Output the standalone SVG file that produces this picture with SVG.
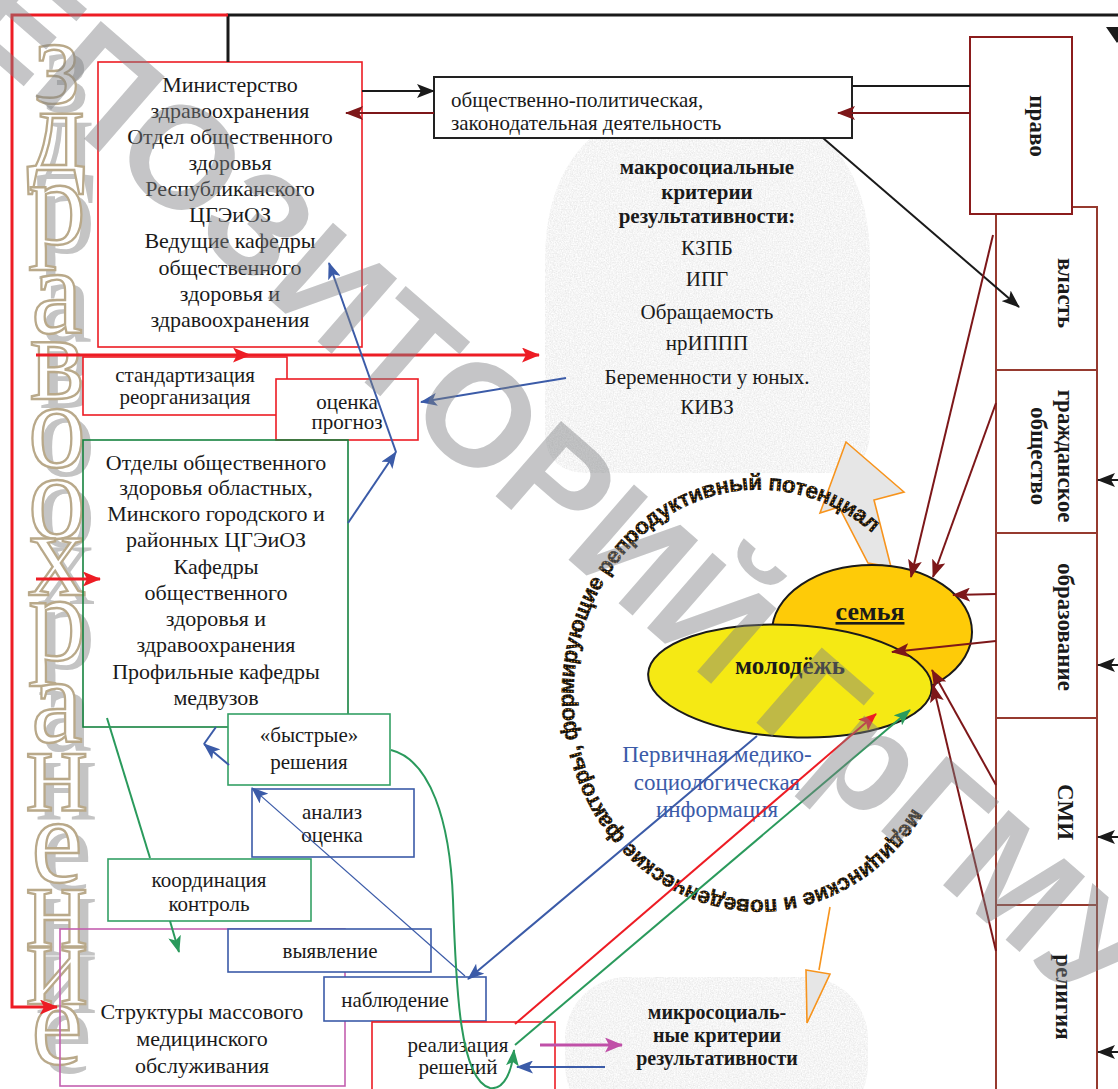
<svg xmlns="http://www.w3.org/2000/svg" width="1118" height="1089" viewBox="0 0 1118 1089">
<defs>
<style>
text{font-family:"Liberation Serif","Times New Roman",serif;fill:#1a1a1a;text-anchor:middle;font-size:21px}
.f22{font-size:22px}
.b{font-weight:bold}
.lbl{font-size:23px;font-weight:bold;dominant-baseline:central}
.lt{text-anchor:start}
.blue{fill:#3b5ba8;font-size:23px}
.ttl{fill:#fff;stroke:#b9a98a;stroke-width:2.4;font-size:122px}
.sh{fill:#c4c4c4;font-size:122px}
.arc{font-family:"Liberation Sans",Arial,sans-serif;font-weight:bold;font-size:22.5px;letter-spacing:-0.4px;fill:url(#dots);stroke:#000;stroke-width:0.4;text-anchor:start}
.wm{font-family:"Liberation Sans",Arial,sans-serif;font-weight:bold;font-size:145px;fill:#7f8184;opacity:0.45;text-anchor:start}
.bx{fill:#fff;stroke-width:1.6}
.nf{fill:none;stroke-width:1.6}
.red{stroke:#ed1c24}
.blu{stroke:#3b5ba8}
.grn{stroke:#34a065}
.col{fill:#fff;stroke:#963a2f;stroke-width:2}
</style>
<filter id="tex" x="0" y="0" width="100%" height="100%">
<feTurbulence type="fractalNoise" baseFrequency="0.75" numOctaves="2" seed="3" result="n"/>
<feColorMatrix in="n" type="matrix" values="0.3 0 0 0 0.76  0.3 0 0 0 0.76  0.3 0 0 0 0.76  0 0 0 0 1" result="g"/>
<feComposite in="g" in2="SourceGraphic" operator="in"/>
</filter>
<marker id="aBk" markerUnits="userSpaceOnUse" markerWidth="18" markerHeight="14" refX="17" refY="7" orient="auto"><path d="M0,0 L18,7 L0,14 L4,7 Z" fill="#1a1a1a"/></marker>
<marker id="aDr" markerUnits="userSpaceOnUse" markerWidth="18" markerHeight="14" refX="17" refY="7" orient="auto"><path d="M0,0 L18,7 L0,14 L4,7 Z" fill="#7d1719"/></marker>
<marker id="aR" markerUnits="userSpaceOnUse" markerWidth="18" markerHeight="15" refX="17" refY="7.5" orient="auto"><path d="M0,0 L18,7.5 L0,15 L4,7.5 Z" fill="#ed1c24"/></marker>
<marker id="aB" markerUnits="userSpaceOnUse" markerWidth="17" markerHeight="13" refX="16" refY="6.5" orient="auto"><path d="M0,0 L17,6.5 L0,13 L4,6.5 Z" fill="#3b5ba8"/></marker>
<marker id="aG" markerUnits="userSpaceOnUse" markerWidth="17" markerHeight="13" refX="16" refY="6.5" orient="auto"><path d="M0,0 L17,6.5 L0,13 L4,6.5 Z" fill="#2a9a5c"/></marker>
<marker id="aM" markerUnits="userSpaceOnUse" markerWidth="18" markerHeight="15" refX="17" refY="7.5" orient="auto"><path d="M0,0 L18,7.5 L0,15 L4,7.5 Z" fill="#c050a8"/></marker>
<pattern id="dots" width="3" height="3" patternUnits="userSpaceOnUse"><rect width="3" height="3" fill="#111"/><circle cx="1.5" cy="1.5" r="0.8" fill="#e8921e"/></pattern>
<path id="arcp" d="M 913 808 A 185 205 0 1 1 885 545"/>
</defs>
<rect width="1118" height="1089" fill="#fff"/>

<g id="macro-criteria">
<path d="M 545 430 V 260 C 545 160 600 100 707 100 C 815 100 870 160 870 260 V 430 Q 870 473 827 473 H 588 Q 545 473 545 430 Z" fill="#ebebeb" filter="url(#tex)"/>
<text class="b" x="707" y="174">макросоциальные</text>
<text class="b" x="707" y="199">критерии</text>
<text class="b" x="707" y="223">результативности:</text>
<text x="707" y="255">КЗПБ</text>
<text x="707" y="286">ИПГ</text>
<text x="707" y="319">Обращаемость</text>
<text x="707" y="350">нрИППП</text>
<text x="707" y="384">Беременности у юных.</text>
<text x="707" y="414">КИВЗ</text>
</g>

<g id="micro-criteria">
<rect x="565" y="977" width="303" height="150" rx="62" fill="#ebebeb" filter="url(#tex)"/>
<text class="b" style="font-size:20px" x="717" y="1019">микросоциаль-</text>
<text class="b" style="font-size:20px" x="717" y="1042">ные критерии</text>
<text class="b" style="font-size:20px" x="717" y="1065">результативности</text>
</g>

<g id="potential-arrow">
<polygon points="846,442 904,492 874,500 891,567 868,563 839,507 820,513" fill="#e6e6e6" stroke="#f7941d" stroke-width="1.6"/>
</g>

<g id="family">
<ellipse cx="872" cy="632" rx="100" ry="67" fill="#fecb08" stroke="#1a1a1a" stroke-width="2"/>
<text class="b" style="font-size:26px;text-decoration:underline" x="870" y="620">семья</text>
</g>
<g id="youth">
<ellipse cx="790" cy="681" rx="142" ry="56" transform="rotate(3 790 681)" fill="#f5e914" stroke="#1a1a1a" stroke-width="2"/>
<text class="b" style="font-size:25px" x="790" y="674">молодёжь</text>
</g>

<g id="factors-arc">
<text class="arc"><textPath href="#arcp">медицинские и поведенческие факторы, формирующие репродуктивный потенциал</textPath></text>
</g>

<g id="primary-info">
<text class="blue" x="717" y="762">Первичная медико-</text>
<text class="blue" x="717" y="790">социологическая</text>
<text class="blue" x="717" y="817">информация</text>
</g>

<g id="title-vertical">
<g transform="translate(57,103) scale(0.95,1)"><text class="sh" x="10" y="9">з</text><text class="ttl">з</text></g>
<g transform="translate(57,170) scale(0.95,1)"><text class="sh" x="10" y="9">д</text><text class="ttl">д</text></g>
<g transform="translate(57,244) scale(0.95,1)"><text class="sh" x="10" y="9">р</text><text class="ttl">р</text></g>
<g transform="translate(57,333) scale(0.95,1)"><text class="sh" x="10" y="9">а</text><text class="ttl">а</text></g>
<g transform="translate(57,399) scale(0.95,1)"><text class="sh" x="10" y="9">в</text><text class="ttl">в</text></g>
<g transform="translate(57,467) scale(0.95,1)"><text class="sh" x="10" y="9">о</text><text class="ttl">о</text></g>
<g transform="translate(57,538) scale(0.95,1)"><text class="sh" x="10" y="9">о</text><text class="ttl">о</text></g>
<g transform="translate(57,595) scale(0.95,1)"><text class="sh" x="10" y="9">х</text><text class="ttl">х</text></g>
<g transform="translate(57,660) scale(0.95,1)"><text class="sh" x="10" y="9">р</text><text class="ttl">р</text></g>
<g transform="translate(57,742) scale(0.95,1)"><text class="sh" x="10" y="9">а</text><text class="ttl">а</text></g>
<g transform="translate(57,810) scale(0.95,1)"><text class="sh" x="10" y="9">н</text><text class="ttl">н</text></g>
<g transform="translate(57,882) scale(0.95,1)"><text class="sh" x="10" y="9">е</text><text class="ttl">е</text></g>
<g transform="translate(57,946) scale(0.95,1)"><text class="sh" x="10" y="9">н</text><text class="ttl">н</text></g>
<g transform="translate(57,1004) scale(0.95,1)"><text class="sh" x="10" y="9">и</text><text class="ttl">и</text></g>
<g transform="translate(57,1064) scale(0.95,1)"><text class="sh" x="10" y="9">е</text><text class="ttl">е</text></g>
</g>

<g id="ministry">
<rect class="bx red" x="98" y="62" width="264" height="285"/>
<text class="f22" x="230" y="92">Министерство</text>
<text class="f22" x="230" y="118">здравоохранения</text>
<text class="f22" x="230" y="144">Отдел общественного</text>
<text class="f22" x="230" y="170">здоровья</text>
<text class="f22" x="230" y="196">Республиканского</text>
<text class="f22" x="230" y="222">ЦГЭиОЗ</text>
<text class="f22" x="230" y="248">Ведущие кафедры</text>
<text class="f22" x="230" y="275">общественного</text>
<text class="f22" x="230" y="301">здоровья и</text>
<text class="f22" x="230" y="327">здравоохранения</text>
</g>

<g id="legislative">
<rect x="434" y="77" width="418" height="61" fill="#fff" stroke="#222" stroke-width="2"/>
<text class="lt" x="451" y="107">общественно-политическая,</text>
<text class="lt" x="451" y="130">законодательная деятельность</text>
</g>

<g id="vlast"><rect class="col" x="996" y="207" width="101" height="163"/><text class="lbl" transform="translate(1065,293) rotate(90)">власть</text></g>
<g id="pravo"><rect x="970" y="37" width="102" height="177" fill="#fff" stroke="#8b1c1c" stroke-width="2"/><text class="lbl" transform="translate(1037,126) rotate(90)">право</text></g>
<g id="civil"><rect class="col" x="996" y="370" width="101" height="163"/><text class="lbl" transform="translate(1065,456) rotate(90)">гражданское</text><text class="lbl" transform="translate(1038,456) rotate(90)">общество</text></g>
<g id="education"><rect class="col" x="996" y="533" width="101" height="185"/><text class="lbl" transform="translate(1065,627) rotate(90)">образование</text></g>
<g id="media"><rect class="col" x="996" y="718" width="101" height="187"/><text class="lbl" transform="translate(1065,812) rotate(90)">СМИ</text></g>
<g id="religion"><rect class="col" x="996" y="905" width="101" height="200"/><text class="lbl" transform="translate(1063,997) rotate(90)">религия</text></g>

<g id="standardization">
<rect class="bx red" x="83" y="357" width="204" height="58"/>
<text x="185" y="382">стандартизация</text>
<text x="185" y="404">реорганизация</text>
</g>
<g id="assessment">
<rect class="bx red" x="276" y="379" width="142" height="61"/>
<text x="347" y="409">оценка</text>
<text x="347" y="429">прогноз</text>
</g>

<g id="regional">
<rect class="nf" x="83" y="440" width="265" height="287" stroke="#16833f"/>
<text class="f22" x="216" y="470">Отделы общественного</text>
<text class="f22" x="216" y="495">здоровья областных,</text>
<text class="f22" x="216" y="521">Минского городского и</text>
<text class="f22" x="216" y="547">районных ЦГЭиОЗ</text>
<text class="f22" x="216" y="574">Кафедры</text>
<text class="f22" x="216" y="600">общественного</text>
<text class="f22" x="216" y="626">здоровья и</text>
<text class="f22" x="216" y="652">здравоохранения</text>
<text class="f22" x="216" y="679">Профильные кафедры</text>
<text class="f22" x="216" y="705">медвузов</text>
</g>

<g id="quick-decisions">
<rect class="bx grn" x="228" y="714" width="162" height="71"/>
<text x="309" y="742">«быстрые»</text>
<text x="309" y="769">решения</text>
</g>
<g id="analysis">
<rect class="bx blu" x="252" y="789" width="162" height="68"/>
<text x="332" y="819">анализ</text>
<text x="332" y="842">оценка</text>
</g>
<g id="coordination">
<rect class="bx grn" x="108" y="859" width="203" height="62"/>
<text x="209" y="887">координация</text>
<text x="209" y="911">контроль</text>
</g>
<g id="mass-care">
<rect class="nf" x="60" y="929" width="285" height="157" stroke="#c45fb0"/>
<text class="f22" x="202" y="1019">Структуры массового</text>
<text class="f22" x="202" y="1046">медицинского</text>
<text class="f22" x="202" y="1073">обслуживания</text>
</g>
<g id="detection">
<rect class="bx blu" x="228" y="929" width="203" height="43"/>
<text x="330" y="958">выявление</text>
</g>
<g id="observation">
<rect class="bx blu" x="324" y="977" width="162" height="44"/>
<text x="395" y="1007">наблюдение</text>
</g>
<g id="implementation">
<rect class="bx red" x="372" y="1022" width="183" height="80"/>
<text x="458" y="1052">реализация</text>
<text x="458" y="1074">решений</text>
</g>

<g id="connectors" fill="none">
<polyline points="228,62 228,15 1118,15" stroke="#1a1a1a" stroke-width="3"/>
<polyline points="228,15 12,15 12,1007 57,1007" stroke="#ed1c24" stroke-width="3" marker-end="url(#aR)"/>
<line x1="36" y1="355" x2="250" y2="355" stroke="#ed1c24" stroke-width="3" marker-end="url(#aR)"/>
<line x1="250" y1="355" x2="539" y2="355" stroke="#ed1c24" stroke-width="3" marker-end="url(#aR)"/>
<line x1="36" y1="579" x2="100" y2="579" stroke="#ed1c24" stroke-width="3" marker-end="url(#aR)"/>
<line x1="515" y1="1024" x2="876" y2="714" stroke="#ed1c24" stroke-width="2" marker-end="url(#aR)"/>

<line x1="362" y1="91" x2="434" y2="91" stroke="#1a1a1a" stroke-width="2" marker-end="url(#aBk)"/>
<line x1="852" y1="86" x2="970" y2="86" stroke="#1a1a1a" stroke-width="2"/>
<line x1="823" y1="138" x2="1019" y2="307" stroke="#1a1a1a" stroke-width="2" marker-end="url(#aBk)"/>
<line x1="1118" y1="480" x2="1098" y2="480" stroke="#1a1a1a" stroke-width="2" marker-end="url(#aBk)"/>
<line x1="1118" y1="665" x2="1098" y2="665" stroke="#1a1a1a" stroke-width="2" marker-end="url(#aBk)"/>
<line x1="1118" y1="837" x2="1098" y2="837" stroke="#1a1a1a" stroke-width="2" marker-end="url(#aBk)"/>
<line x1="1118" y1="1052" x2="1098" y2="1052" stroke="#1a1a1a" stroke-width="2" marker-end="url(#aBk)"/>
<polygon points="1106,27 1128,27 1117,43" fill="#1a1a1a"/>

<line x1="434" y1="113" x2="346" y2="113" stroke="#7d1719" stroke-width="2" marker-end="url(#aDr)"/>
<line x1="970" y1="113" x2="838" y2="113" stroke="#7d1719" stroke-width="2" marker-end="url(#aDr)"/>
<line x1="993" y1="235" x2="911" y2="577" stroke="#7d1719" stroke-width="2" marker-end="url(#aDr)"/>
<line x1="996" y1="403" x2="933" y2="577" stroke="#7d1719" stroke-width="2" marker-end="url(#aDr)"/>
<line x1="996" y1="594" x2="953" y2="595" stroke="#7d1719" stroke-width="2" marker-end="url(#aDr)"/>
<line x1="996" y1="641" x2="892" y2="652" stroke="#7d1719" stroke-width="2" marker-end="url(#aDr)"/>
<line x1="996" y1="785" x2="932" y2="670" stroke="#7d1719" stroke-width="2" marker-end="url(#aDr)"/>
<line x1="996" y1="951" x2="933" y2="685" stroke="#7d1719" stroke-width="2" marker-end="url(#aDr)"/>

<line x1="566" y1="378" x2="421" y2="402" stroke="#3b5ba8" stroke-width="2" marker-end="url(#aB)"/>
<line x1="348" y1="523" x2="396" y2="452" stroke="#3b5ba8" stroke-width="2" marker-end="url(#aB)"/>
<line x1="396" y1="452" x2="329" y2="263" stroke="#3b5ba8" stroke-width="2" marker-end="url(#aB)"/>
<line x1="229" y1="765" x2="204" y2="744" stroke="#3b5ba8" stroke-width="2" marker-end="url(#aB)"/>
<line x1="204" y1="744" x2="216" y2="727" stroke="#3b5ba8" stroke-width="2"/>
<line x1="465" y1="976" x2="252" y2="788" stroke="#3b5ba8" stroke-width="1.2" marker-end="url(#aB)"/>
<line x1="757" y1="736" x2="468" y2="979" stroke="#3b5ba8" stroke-width="2" marker-end="url(#aB)"/>
<line x1="605" y1="1067" x2="517" y2="1067" stroke="#3b5ba8" stroke-width="2" marker-end="url(#aB)"/>

<line x1="107" y1="718" x2="150" y2="858" stroke="#2a9a5c" stroke-width="2"/>
<line x1="170" y1="921" x2="179" y2="952" stroke="#2a9a5c" stroke-width="2" marker-end="url(#aG)"/>
<line x1="515" y1="1045" x2="910" y2="710" stroke="#2a9a5c" stroke-width="2" marker-end="url(#aG)"/>
<path d="M 391 750 C 430 760 450 820 453 900 C 456 990 460 1080 490 1088 C 505 1090 512 1070 514 1050" stroke="#2a9a5c" stroke-width="2" marker-end="url(#aG)"/>

<line x1="540" y1="1045" x2="622" y2="1045" stroke="#c050a8" stroke-width="3" marker-end="url(#aM)"/>

<line x1="830" y1="907" x2="819" y2="970" stroke="#f7941d" stroke-width="1.6"/>
<polygon points="806,970 830,974 807,1023" fill="#e6e6e6" stroke="#f7941d" stroke-width="1.6"/>
</g>

<g id="watermark">
<text class="wm" transform="translate(-118,-37) rotate(41)">РЕПОЗИТОРИЙ ГрГМУ</text>
</g>
</svg>
